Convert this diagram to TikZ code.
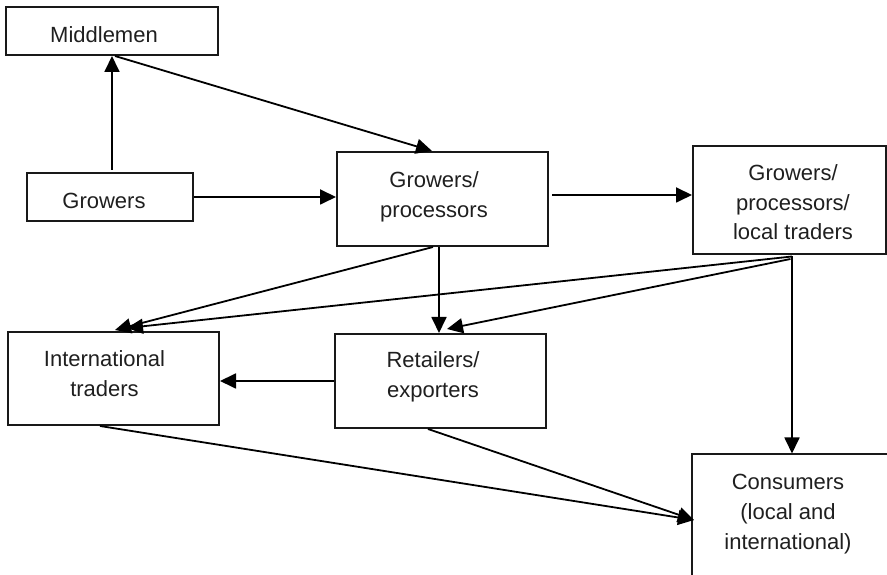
\documentclass[tikz,border=0pt]{standalone}
\usepackage{fontspec}
\setmainfont{Liberation Sans}
\usetikzlibrary{arrows.meta}
\begin{document}
\begin{tikzpicture}[x=1pt,y=1pt,
  box/.style={draw=black!90, line width=2pt, rectangle, inner sep=0pt},
  lbl/.style={anchor=base, inner sep=0pt, font=\fontsize{22}{29}\selectfont, text=black!88},
  arr/.style={draw=black, line width=1.8pt, -{Triangle[length=16pt,width=15pt]}},
  ln/.style={draw=black, line width=1.8pt}]
\useasboundingbox (0,0) rectangle (887,575);
\clip (0,0) rectangle (887,575);
% boxes
\node[box, minimum width=212pt, minimum height=48pt] (mid)  at (112,544) {};
\node[box, minimum width=166pt, minimum height=48pt] (grow) at (110,378) {};
\node[box, minimum width=211pt, minimum height=94pt] (gp)   at (442.5,376) {};
\node[box, minimum width=193pt, minimum height=108pt] (gpl) at (789.5,375) {};
\node[box, minimum width=211pt, minimum height=93pt] (int)  at (113.5,196.5) {};
\node[box, minimum width=211pt, minimum height=94pt] (ret)  at (440.5,194) {};
\node[box, minimum width=208pt, minimum height=145pt] (con) at (796,48) {};
% texts
\node[lbl] (midT) at (104,532) {Middlemen};
\node[lbl] (growT) at (104,366) {Growers};
\node[lbl] (gpA) at (434,387) {Growers/};
\node[lbl] (gpB) at (434,357) {processors};
\node[lbl] (gplA) at (793,394) {Growers/};
\node[lbl] (gplB) at (793,364) {processors/};
\node[lbl] (gplC) at (793,335) {local traders};
\node[lbl] (intA) at (104.5,208) {International};
\node[lbl] (intB) at (104.5,178) {traders};
\node[lbl] (retA) at (433,207) {Retailers/};
\node[lbl] (retB) at (433,177) {exporters};
\node[lbl] (conA) at (788,85) {Consumers};
\node[lbl] (conB) at (788,55) {(local and};
\node[lbl] (conC) at (788,25) {international)};
% connectors
\draw[arr] ([yshift=2pt]grow.north -| mid.south) -- (mid.south);
\draw[arr] ([xshift=3pt]mid.south) -- ([xshift=-10.5pt]gp.north);
\draw[arr] (grow.east) -- (gp.west |- grow.east);
\coordinate (gpo) at ([shift={(3pt,4pt)}]gp.east);
\draw[arr] (gpo) -- (gpo -| gpl.west);
\draw[arr] ([xshift=-3.5pt]gp.south) -- ([xshift=-1.5pt]ret.north);
\draw[arr] ([xshift=-9.5pt]gp.south) -- ([shift={(1.5pt,1pt)}]int.north);
\coordinate (gplo) at ([shift={(2.5pt,-1.5pt)}]gpl.south);
\draw[arr] (gplo) -- ([shift={(13.5pt,3pt)}]int.north);
\draw[arr] ([shift={(1pt,-4pt)}]gpl.south) -- ([shift={(6.5pt,4pt)}]ret.north);
\draw[arr] (gplo) -- (gplo |- con.north);
\draw[arr] (ret.west) -- (int.east |- ret.west);
\draw[arr] ([xshift=-13.5pt]int.south) -- ([shift={(3pt,7pt)}]con.west);
\draw[arr] ([xshift=-12.5pt]ret.south) -- ([shift={(3pt,7pt)}]con.west);
\end{tikzpicture}
\end{document}
